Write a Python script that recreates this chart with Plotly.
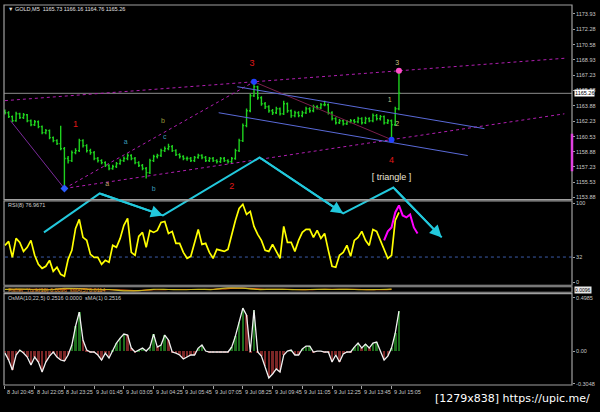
import plotly.graph_objects as go

# ---------------- data ----------------
time_labels = ["8 Jul 20:45", "8 Jul 22:05", "8 Jul 23:25", "9 Jul 01:45", "9 Jul 03:05",
               "9 Jul 04:25", "9 Jul 05:45", "9 Jul 07:05", "9 Jul 08:25", "9 Jul 09:45",
               "9 Jul 11:05", "9 Jul 12:25", "9 Jul 13:45", "9 Jul 15:05"]
time_label_bars = [0, 16, 32, 48, 64, 80, 96, 112, 128, 144, 160, 176, 192, 208]

price_ticks = [1173.93, 1172.28, 1170.58, 1168.93, 1167.23, 1165.58, 1163.88,
               1162.23, 1160.53, 1158.88, 1157.23, 1155.53, 1153.88]
last_price = 1165.26
first_open = 1163.30

close = [1163.14, 1162.71, 1162.27, 1163.03, 1162.60, 1162.92, 1162.27, 1161.83, 1162.16, 1161.62,
         1160.96, 1161.18, 1160.42, 1160.09, 1159.76, 1159.22, 1158.13, 1157.91, 1158.78, 1159.00,
         1160.09, 1159.55, 1159.00, 1158.78, 1158.13, 1157.91, 1157.69, 1157.37, 1157.04, 1157.26,
         1157.58, 1157.91, 1158.13, 1158.46, 1158.13, 1157.69, 1157.37, 1157.04, 1156.60, 1157.91,
         1158.35, 1158.46, 1159.00, 1159.22, 1159.44, 1159.00, 1158.56, 1158.35, 1158.13, 1158.13,
         1157.91, 1158.24, 1158.46, 1158.24, 1157.91, 1158.13, 1157.91, 1157.80, 1158.13, 1157.91,
         1157.80, 1158.13, 1159.00, 1160.09, 1161.73, 1163.36, 1165.00, 1165.98, 1164.78, 1164.12,
         1163.80, 1163.36, 1163.14, 1163.58, 1163.03, 1164.12, 1163.36, 1162.82, 1163.14, 1162.82,
         1163.14, 1163.58, 1163.36, 1163.80, 1163.69, 1164.01, 1164.01, 1163.14, 1162.49, 1162.05,
         1162.27, 1161.94, 1162.16, 1162.27, 1162.16, 1162.49, 1162.05, 1162.49, 1162.27, 1162.82,
         1162.49, 1162.71, 1162.05, 1162.27, 1161.83, 1163.58, 1165.26]
high = [1163.50, 1163.30, 1162.85, 1163.25, 1163.15, 1163.10, 1163.00, 1162.40, 1162.35, 1162.30,
        1161.75, 1161.35, 1161.30, 1160.55, 1160.25, 1161.73, 1159.40, 1158.40, 1159.00, 1159.25,
        1160.30, 1160.25, 1159.70, 1159.20, 1158.95, 1158.30, 1158.05, 1157.85, 1157.50, 1157.45,
        1157.75, 1158.10, 1158.35, 1158.70, 1158.60, 1158.30, 1157.85, 1157.55, 1157.20, 1158.10,
        1158.55, 1158.65, 1159.20, 1159.45, 1159.75, 1159.60, 1159.15, 1158.70, 1158.50, 1158.35,
        1158.30, 1158.40, 1158.65, 1158.60, 1158.40, 1158.30, 1158.30, 1158.05, 1158.30, 1158.30,
        1158.05, 1158.30, 1159.20, 1160.30, 1161.95, 1163.60, 1165.25, 1166.52, 1166.10, 1164.95,
        1164.30, 1163.95, 1163.55, 1163.80, 1163.70, 1164.45, 1164.25, 1163.50, 1163.35, 1163.30,
        1163.35, 1163.80, 1163.75, 1164.00, 1163.95, 1164.20, 1164.45, 1164.15, 1163.30, 1162.65,
        1162.45, 1162.40, 1162.35, 1162.45, 1162.45, 1162.70, 1162.65, 1162.70, 1162.65, 1163.05,
        1163.00, 1162.90, 1162.85, 1162.45, 1162.40, 1163.80, 1167.72]
low = [1162.95, 1162.55, 1162.10, 1162.15, 1162.45, 1162.45, 1162.10, 1161.65, 1161.70, 1161.45,
       1160.80, 1160.80, 1160.25, 1159.90, 1159.60, 1159.05, 1154.86, 1157.60, 1157.75, 1158.60,
       1158.85, 1159.35, 1158.80, 1158.55, 1157.95, 1157.70, 1157.50, 1157.20, 1156.85, 1156.90,
       1157.10, 1157.45, 1157.75, 1157.95, 1157.95, 1157.50, 1157.20, 1156.85, 1155.95, 1156.45,
       1157.75, 1158.15, 1158.30, 1158.85, 1159.05, 1158.85, 1158.40, 1158.15, 1157.95, 1157.90,
       1157.75, 1157.75, 1158.10, 1158.05, 1157.75, 1157.75, 1157.75, 1157.60, 1157.65, 1157.75,
       1157.60, 1157.65, 1158.00, 1158.85, 1159.95, 1161.55, 1163.20, 1164.85, 1164.55, 1163.90,
       1163.55, 1163.15, 1162.90, 1163.00, 1162.85, 1162.90, 1163.15, 1162.60, 1162.65, 1162.65,
       1162.65, 1163.00, 1163.15, 1163.20, 1163.50, 1163.55, 1163.85, 1162.95, 1162.30, 1161.85,
       1161.90, 1161.75, 1161.80, 1162.00, 1161.95, 1162.00, 1161.85, 1161.90, 1162.10, 1162.10,
       1162.30, 1162.30, 1161.85, 1161.90, 1160.20, 1161.70, 1163.40]

rsi = [46.8, 51.9, 31.6, 55.7, 50.6, 39.2, 44.3, 53.2, 34.2, 22.8,
       17.7, 20.3, 27.8, 13.9, 19.0, 10.1, 7.6, 29.1, 40.5, 68.4,
       79.8, 57.0, 53.2, 35.4, 31.6, 31.6, 22.8, 27.8, 25.3, 46.8,
       44.3, 55.7, 72.2, 81.0, 38.0, 34.2, 58.2, 63.3, 44.3, 65.8,
       63.3, 65.8, 76.0, 77.2, 62.0, 64.6, 49.4, 49.4, 38.0, 30.4,
       32.9, 49.4, 67.1, 48.1, 49.4, 38.0, 30.4, 41.8, 40.5, 39.2,
       41.8, 62.0, 78.5, 93.7, 99.0, 86.1, 89.9, 70.9, 60.8, 53.2,
       40.5, 39.2, 48.1, 39.2, 30.4, 70.9, 50.6, 50.6, 39.2, 53.2,
       63.3, 67.1, 67.1, 57.0, 65.8, 55.7, 62.0, 40.5, 20.3, 19.0,
       34.2, 38.0, 46.8, 32.9, 53.2, 57.0, 64.6, 53.2, 46.8, 67.1,
       64.6, 53.2, 40.5, 30.4, 34.2, 78.5, 88.6]
rsi_proj_bars = [204, 206, 208, 210, 212, 214, 216, 218, 220, 222]
rsi_proj = [53.2, 64.6, 69.6, 88.6, 97.5, 84.8, 82.3, 86.1, 69.6, 62.0]
rsi_level = 32

fisher_bars = [0, 8, 16, 24, 32, 40, 48, 56, 64, 72, 80, 88, 96, 104, 112, 120, 128,
               136, 144, 152, 160, 168, 176, 184, 192, 200, 208]
fisher = [0.1, 0.2, 0.0, -0.1, 0.5, 0.4, -0.1, 0.0, -0.6, -0.5, 0.1, 0.0, -0.1, 0.1, 0.0,
          0.7, 0.6, 0.0, 0.1, 0.0, -0.1, 0.1, 0.0, 0.1, -0.1, 0.0, 0.2]
fisher_sig = [0.0, 0.1, 0.1, 0.0, 0.2, 0.4, 0.1, -0.1, -0.3, -0.5, -0.1, 0.0, 0.0, 0.0,
              0.05, 0.4, 0.6, 0.3, 0.05, 0.05, -0.05, 0.0, 0.05, 0.05, 0.0, -0.05, 0.1]

osma = [-0.019, -0.084, -0.178, -0.037, 0.009, -0.019, -0.056, -0.131, -0.056, -0.103,
        -0.196, -0.103, -0.047, -0.009, -0.056, -0.084, -0.093, -0.037, 0.056, 0.234,
        0.364, 0.103, 0.009, -0.009, -0.009, -0.037, -0.084, -0.019, -0.065, 0.009,
        0.075, 0.121, 0.159, 0.150, 0.028, -0.009, 0.009, 0.028, 0.0, 0.037,
        0.159, 0.037, 0.056, 0.150, 0.103, -0.009, -0.019, -0.037, -0.075, -0.056,
        -0.037, -0.037, 0.028, 0.056, 0.0, -0.009, -0.009, -0.009, -0.009, -0.009,
        -0.009, 0.037, 0.140, 0.271, 0.402, 0.336, -0.009, 0.383, -0.009, -0.047,
        -0.140, -0.252, -0.215, -0.168, -0.196, -0.037, 0.0, 0.009, -0.037, -0.037,
        0.019, 0.047, 0.047, -0.009, 0.0, 0.0, -0.009, -0.009, -0.103, -0.037,
        -0.103, -0.028, -0.009, -0.009, 0.037, 0.075, 0.028, 0.065, 0.028, 0.075,
        0.084, 0.0, -0.084, -0.047, 0.028, 0.168, 0.374]
osma_ticks = [0.4985, 0.0, -0.3048]
osma_ticktext = ["0.4985", "0.00", "-0.3048"]

# trend / channel lines (bar, price)
upper_trend_bars = [0, 301]
upper_trend_price = [1164.46, 1169.09]
lower_trend_bars = [32, 301]
lower_trend_price = [1154.86, 1163.02]
wave23_bars = [32, 134]
wave23_price = [1154.86, 1166.52]
wave01_bars = [3, 32]
wave01_price = [1162.27, 1154.86]
wave34_bars = [134, 208]
wave34_price = [1166.52, 1160.20]
chan_up_bars = [125, 258]
chan_up_price = [1165.98, 1161.40]
chan_dn_bars = [115, 249]
chan_dn_price = [1163.14, 1158.46]

# projected zig-zag (bar, price)
zig_bars = [21, 51, 85, 137, 182, 209, 235]
zig_price = [1150.06, 1154.31, 1151.91, 1158.24, 1152.13, 1154.96, 1149.51]

# wave labels
wave_text = ["1", "2", "3", "4", "a", "b", "a", "b", "c", "1", "2", "3"]
wave_bar = [38, 122, 133, 208, 55, 80, 65, 85, 86, 207, 211, 211]
wave_price = [1161.8, 1155.0, 1168.5, 1157.9, 1155.3, 1154.8, 1159.9, 1162.2, 1160.5, 1164.5, 1161.9, 1168.5]
wave_color = ["#e01818", "#e01818", "#e01818", "#e01818", "#c0a070", "#3a9ab8", "#3a9ab8",
              "#9a9a3a", "#3a9ab8", "#c8c080", "#c8c080", "#c8c080"]
wave_size = [9, 9, 9, 9, 7, 7, 7, 7, 7, 7, 7, 7]

magenta_axis_range = [1156.75, 1160.85]

# ---------------- figure ----------------
bars = list(range(0, 2 * len(close), 2))
opens = [first_open] + close[:-1]

D_MAIN = [0.4882, 1.0]
D_RSI = [0.2625, 0.4843]
D_FISH = [0.2441, 0.2585]
D_OSMA = [0.0, 0.2402]

fig = go.Figure()

GRID = "#a0a0a0"
MAG = "#b01eb0"

# dotted magenta trend lines
for bx, py in [(upper_trend_bars, upper_trend_price), (lower_trend_bars, lower_trend_price),
               (wave23_bars, wave23_price)]:
    fig.add_trace(go.Scatter(x=bx, y=py, mode="lines", yaxis="y",
                             line=dict(color=MAG, width=1, dash="dot"), hoverinfo="skip"))
fig.add_trace(go.Scatter(x=wave01_bars, y=wave01_price, mode="lines", yaxis="y",
                         line=dict(color="#7a2a9a", width=1), hoverinfo="skip"))
fig.add_trace(go.Scatter(x=wave34_bars, y=wave34_price, mode="lines", yaxis="y",
                         line=dict(color="#7a1e4a", width=1), hoverinfo="skip"))
for bx, py in [(chan_up_bars, chan_up_price), (chan_dn_bars, chan_dn_price)]:
    fig.add_trace(go.Scatter(x=bx, y=py, mode="lines", yaxis="y",
                             line=dict(color="#5a6ad8", width=1), hoverinfo="skip"))

# price bars
fig.add_trace(go.Ohlc(x=bars, open=opens, high=high, low=low, close=close, yaxis="y",
                      increasing=dict(line=dict(color="#1ed21e", width=1.4)),
                      decreasing=dict(line=dict(color="#1ed21e", width=1.4)),
                      tickwidth=0.35, hoverinfo="skip"))

# pivot markers
fig.add_trace(go.Scatter(x=[bars[16]], y=[low[16]], mode="markers", yaxis="y",
                         marker=dict(symbol="diamond", size=6, color="#2a5cff"), hoverinfo="skip"))
fig.add_trace(go.Scatter(x=[bars[67], bars[104]], y=[high[67], low[104]], mode="markers", yaxis="y",
                         marker=dict(symbol="circle", size=6, color="#2040ff"), hoverinfo="skip"))
fig.add_trace(go.Scatter(x=[bars[106]], y=[high[106]], mode="markers", yaxis="y",
                         marker=dict(symbol="circle", size=6, color="#ff50c8"), hoverinfo="skip"))

# wave labels
fig.add_trace(go.Scatter(x=wave_bar, y=wave_price, mode="text", yaxis="y", text=wave_text,
                         textfont=dict(color=wave_color, size=wave_size, family="Liberation Sans"),
                         hoverinfo="skip"))
fig.add_trace(go.Scatter(x=[208], y=[1156.0], mode="text", yaxis="y", text=["[ triangle ]"],
                         textfont=dict(color="#ece4d4", size=9, family="Liberation Sans"),
                         hoverinfo="skip"))

# RSI
fig.add_trace(go.Scatter(x=[0, 305], y=[rsi_level, rsi_level], mode="lines", yaxis="y2",
                         line=dict(color="#3a5aa8", width=1, dash="dot"), hoverinfo="skip"))
fig.add_trace(go.Scatter(x=bars, y=rsi, mode="lines", yaxis="y2",
                         line=dict(color="#ffff00", width=1.7), hoverinfo="skip"))
fig.add_trace(go.Scatter(x=rsi_proj_bars, y=rsi_proj, mode="lines", yaxis="y2",
                         line=dict(color="#ff00ff", width=2), hoverinfo="skip"))

# Fisher
fig.add_trace(go.Scatter(x=fisher_bars, y=fisher_sig, mode="lines", yaxis="y3",
                         line=dict(color="#e06010", width=1.2, shape="spline"), hoverinfo="skip"))
fig.add_trace(go.Scatter(x=fisher_bars, y=fisher, mode="lines", yaxis="y3",
                         line=dict(color="#c8b820", width=1.2, shape="spline"), hoverinfo="skip"))

# OsMA
osma_colors = []
for i, v in enumerate(osma):
    if v >= 0 and (i == 0 or v >= osma[i - 1]):
        osma_colors.append("#1d6e1d")
    else:
        osma_colors.append("#7a2626")
fig.add_trace(go.Bar(x=bars, y=osma, yaxis="y4", marker=dict(color=osma_colors, line=dict(width=0)),
                     width=1.4, hoverinfo="skip"))
fig.add_trace(go.Scatter(x=bars, y=osma, mode="lines", yaxis="y4",
                         line=dict(color="#f0f0f0", width=1.3), hoverinfo="skip"))

# projected zig-zag across main + RSI panels
fig.add_trace(go.Scatter(x=zig_bars, y=zig_price, mode="lines", yaxis="y5",
                         line=dict(color="#22c8dc", width=2), hoverinfo="skip"))

annotations = []
for i in (2, 4, 6):
    annotations.append(dict(x=zig_bars[i], y=zig_price[i], xref="x", yref="y5",
                            ax=zig_bars[i - 1], ay=zig_price[i - 1], axref="x", ayref="y5",
                            showarrow=True, arrowhead=2, arrowsize=1.2, arrowwidth=2,
                            arrowcolor="#22c8dc", text=""))

# time labels
for b, t in zip(time_label_bars, time_labels):
    annotations.append(dict(x=b, y=-0.006, xref="x", yref="paper", text=t, showarrow=False,
                            xanchor="left", yanchor="top", xshift=0,
                            font=dict(size=5.5, color="#c8c8c8", family="Liberation Sans")))

# panel titles
def title(txt, ypx, color):
    return dict(x=0.003, y=(385 - ypx) / 381, xref="paper", yref="paper", text=txt, showarrow=False,
                xanchor="left", yanchor="middle", font=dict(size=5.5, color=color, family="Liberation Sans"))

annotations.append(title("▼ GOLD,M5  1165.73 1166.16 1164.76 1165.26", 8, "#e0e0e0"))
annotations.append(title("RSI(8) 76.9671", 204.5, "#d0d0d0"))
annotations.append(title("Fisher_Yurik(10) 0.0096  sMA(5) 0.0114", 289.3, "#e08a20"))
annotations.append(title("OsMA(10,22,5) 0.2516 0.0000  sMA(1) 0.2516", 297.5, "#d0d0d0"))

# current price box
annotations.append(dict(x=1, y=last_price, xref="paper", yref="y", text=f"{last_price:.2f}",
                        showarrow=False, xanchor="left", yanchor="middle", xshift=2,
                        bgcolor="#ffffff", borderpad=0,
                        font=dict(size=5.5, color="#000000", family="Liberation Sans")))
annotations.append(dict(x=1, y=(385 - 289.3) / 381, xref="paper", yref="paper", text="0.0096",
                        showarrow=False, xanchor="left", yanchor="middle", xshift=2,
                        bgcolor="#e8e8e8", borderpad=0,
                        font=dict(size=5, color="#000000", family="Liberation Sans")))
# watermark
annotations.append(dict(x=(598 - 4) / 574, y=(385 - 399) / 381, xref="paper", yref="paper",
                        text="[1279x838] https://upic.me/", showarrow=False, xanchor="right",
                        yanchor="middle", font=dict(size=11, color="#ffffff", family="DejaVu Sans")))

shapes = []
for d in (D_MAIN, D_RSI, D_FISH, D_OSMA):
    shapes.append(dict(type="rect", xref="paper", yref="paper", x0=0, x1=1, y0=d[0], y1=d[1],
                       line=dict(color=GRID, width=1.2), layer="above"))
shapes.append(dict(type="line", xref="paper", yref="y", x0=0, x1=1, y0=last_price, y1=last_price,
                   line=dict(color="#8c8c8c", width=1), layer="below"))
shapes.append(dict(type="line", xref="paper", yref="y", x0=1, x1=1, y0=magenta_axis_range[0],
                   y1=magenta_axis_range[1], line=dict(color="#e040e0", width=2.5), layer="above"))

ax_common = dict(showgrid=False, zeroline=False, showline=False, fixedrange=True)
tick_font = dict(size=5.5, color="#c8c8c8", family="Liberation Sans")

fig.update_layout(
    width=600, height=412,
    paper_bgcolor="#000000", plot_bgcolor="rgba(0,0,0,0)",
    margin=dict(l=4, r=22, t=4, b=27),
    showlegend=False, bargap=0,
    xaxis=dict(domain=[0, 1], range=[-0.5, 305.1], anchor="y4", tickvals=time_label_bars,
               ticks="outside", ticklen=3, tickcolor=GRID, showticklabels=False,
               rangeslider=dict(visible=False), **ax_common),
    yaxis=dict(domain=D_MAIN, range=[1153.66, 1174.91], anchor="x", side="right",
               tickvals=price_ticks, ticktext=[f"{v:.2f}" for v in price_ticks],
               ticks="outside", ticklen=2, tickcolor=GRID, tickfont=tick_font, **ax_common),
    yaxis2=dict(domain=D_RSI, range=[-3.8, 103.2], anchor="x", side="right",
                tickvals=[100, rsi_level, 0], ticktext=["100", str(rsi_level), "0"],
                ticks="outside", ticklen=2, tickcolor=GRID, tickfont=tick_font, **ax_common),
    yaxis3=dict(domain=D_FISH, range=[-1.2, 1.2], anchor="x", side="right",
                showticklabels=False, **ax_common),
    yaxis4=dict(domain=D_OSMA, range=[-0.318, 0.537], anchor="x", side="right",
                tickvals=osma_ticks, ticktext=osma_ticktext,
                ticks="outside", ticklen=2, tickcolor=GRID, tickfont=tick_font, **ax_common),
    yaxis5=dict(domain=[D_RSI[0], 1.0], range=[1144.28, 1174.91], anchor="x", visible=False,
                **ax_common),
    annotations=annotations, shapes=shapes,
)

fig.write_html("out.html", config={"displayModeBar": False},
               post_script="document.body.style.margin='0';document.body.style.background='#000';")
